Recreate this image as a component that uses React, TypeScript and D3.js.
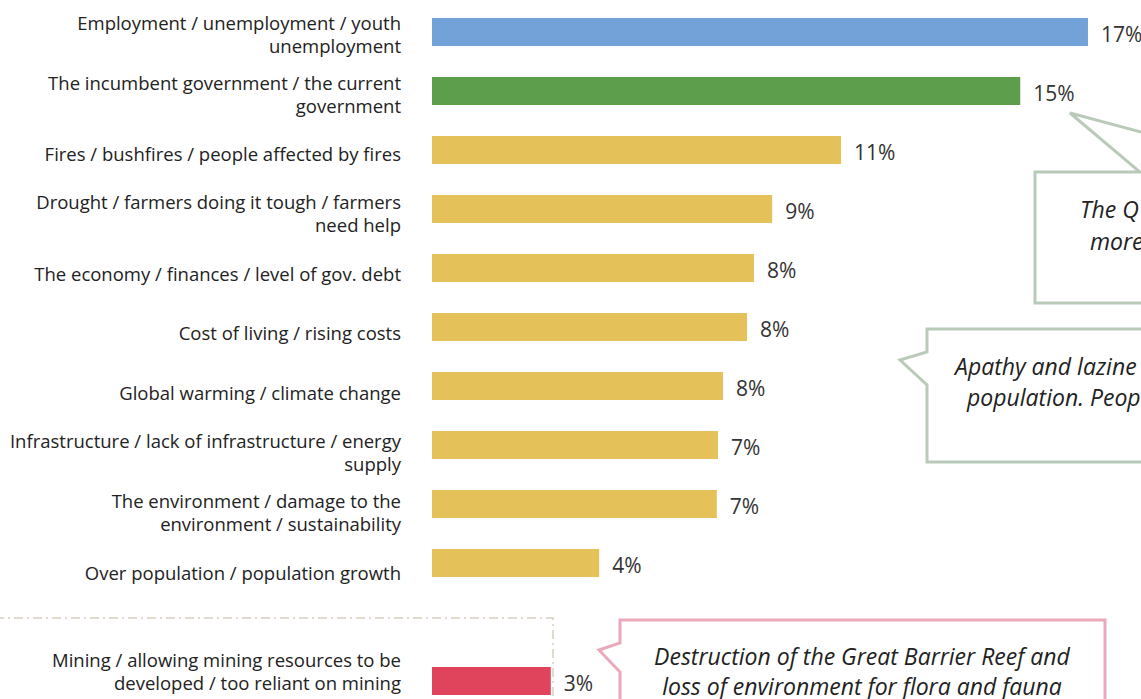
import React from "react";
import * as d3 from "d3";

const categories: string[][] = [
  ["Employment / unemployment / youth", "unemployment"],
  ["The incumbent government / the current", "government"],
  ["Fires / bushfires / people affected by fires"],
  ["Drought / farmers doing it tough / farmers", "need help"],
  ["The economy / finances / level of gov. debt"],
  ["Cost of living / rising costs"],
  ["Global warming / climate change"],
  ["Infrastructure / lack of infrastructure / energy", "supply"],
  ["The environment / damage to the", "environment / sustainability"],
  ["Over population / population growth"],
  ["Mining / allowing mining resources to be", "developed / too reliant on mining"],
];
const values: number[] = [16.95, 15.2, 10.57, 8.79, 8.32, 8.14, 7.52, 7.39, 7.36, 4.32, 3.07];
const colors: string[] = [
  "#72a2d8", "#5c9e4b", "#e5c15a", "#e5c15a", "#e5c15a", "#e5c15a",
  "#e5c15a", "#e5c15a", "#e5c15a", "#e5c15a", "#e0435c",
];
// slot index for each category (slot 10 is an empty gap before the separate group)
const slots: number[] = [0, 1, 2, 3, 4, 5, 6, 7, 8, 9, 11];
const separateGroup: boolean[] = [false, false, false, false, false, false, false, false, false, false, true];

const quote1: string[] = ["The Q", "more"];
const quote2: string[] = ["Apathy and lazine", "population. Peop"];
const quote3: string[] = ["Destruction of the Great Barrier Reef and", "loss of environment for flora and fauna"];

const W = 1141;
const H = 699;
const FONT = "'Open Sans', 'DejaVu Sans', sans-serif";

export default function App() {
  const slotKeys = d3.range(12).map(String);
  const y = d3
    .scaleBand<string>()
    .domain(slotKeys)
    .range([2.5, 710.5])
    .paddingInner(0.525)
    .paddingOuter(0.2625);
  // category labels in the main group sit on a slightly wider pitch than the bars
  const labelY = d3.scaleLinear().domain([0, 9]).range([34, 572]);
  const x = d3.scaleLinear().domain([0, 17]).range([432, 432 + 38.7 * 17]);
  const fmt = d3.format(".0f");
  const bw = y.bandwidth();

  const calloutGreen = "#b9cbb8";
  const calloutPink = "#e9a9bb";

  return (
    <svg
      width={W}
      height={H}
      viewBox={`0 0 ${W} ${H}`}
      style={{ position: "absolute", left: 0, top: 0, background: "#fff" }}
    >
      {/* dashed box around the separate group */}
      <path
        d={`M -5 618 L 553 618 L 553 ${H + 5}`}
        fill="none"
        stroke="#d8d0bd"
        strokeWidth={1.5}
        strokeDasharray="9 4 2 4"
      />

      {categories.map((lines, i) => {
        const cy = (y(String(slots[i])) as number) + bw / 2;
        const labelCy = separateGroup[i] ? cy - 10 : labelY(slots[i]);
        const lh = 23;
        const firstY = labelCy - ((lines.length - 1) * lh) / 2;
        return (
          <g key={i}>
            <rect
              x={x(0)}
              y={y(String(slots[i]))}
              width={x(values[i]) - x(0)}
              height={bw}
              fill={colors[i]}
            />
            <text
              x={401}
              textAnchor="end"
              fontFamily={FONT}
              fontSize={18.5}
              fill="#222"
            >
              {lines.map((l, j) => (
                <tspan key={j} x={401} y={firstY + j * lh} dominantBaseline="central">
                  {l}
                </tspan>
              ))}
            </text>
            <text
              x={x(values[i]) + 13}
              y={cy + 2}
              dominantBaseline="central"
              fontFamily={FONT}
              fontSize={21}
              fill="#333"
            >
              {fmt(values[i])}%
            </text>
          </g>
        );
      })}

      {/* callout 1 */}
      <path
        d="M 1035 172 L 1140 172 L 1070 113 L 1290 172 L 1400 172 L 1400 303 L 1035 303 Z"
        fill="#fff"
        stroke={calloutGreen}
        strokeWidth={3}
        strokeLinejoin="miter"
      />
      <text fontFamily={FONT} fontStyle="italic" fontSize={23} fill="#222">
        <tspan x={1080} y={209} dominantBaseline="central">{quote1[0]}</tspan>
        <tspan x={1090} y={241} dominantBaseline="central">{quote1[1]}</tspan>
      </text>

      {/* callout 2 */}
      <path
        d="M 927 329 L 1400 329 L 1400 462 L 927 462 L 927 385 L 900 360 L 927 352 Z"
        fill="#fff"
        stroke={calloutGreen}
        strokeWidth={3}
      />
      <text fontFamily={FONT} fontStyle="italic" fontSize={23} fill="#222">
        <tspan x={955} y={366} dominantBaseline="central">{quote2[0]}</tspan>
        <tspan x={967} y={397} dominantBaseline="central">{quote2[1]}</tspan>
      </text>

      {/* callout 3 */}
      <path
        d="M 620 620 L 1105 620 L 1105 760 L 620 760 L 620 672 L 599 650 L 620 643 Z"
        fill="#fff"
        stroke={calloutPink}
        strokeWidth={3}
      />
      <text fontFamily={FONT} fontStyle="italic" fontSize={23} fill="#222" textAnchor="middle">
        <tspan x={862} y={656} dominantBaseline="central">{quote3[0]}</tspan>
        <tspan x={862} y={686} dominantBaseline="central">{quote3[1]}</tspan>
      </text>
    </svg>
  );
}
